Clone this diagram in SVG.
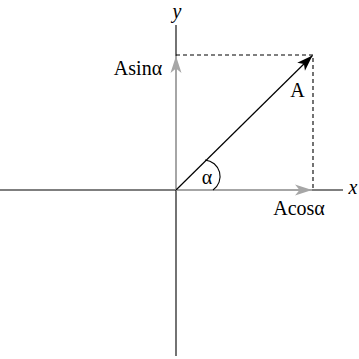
<svg xmlns="http://www.w3.org/2000/svg" width="359" height="359" viewBox="0 0 359 359">
<defs>
<style>
.axis{stroke:#000;stroke-width:1.1;fill:none}
.comp{stroke:#a6a6a6;stroke-width:2;fill:none}
.vec{stroke:#000;stroke-width:1.2;fill:none}
.dash{stroke:#000;stroke-width:1.1;stroke-dasharray:4,3;fill:none}
.lbl{font-family:"Liberation Serif","DejaVu Serif",serif;font-size:20px;fill:#000}
.it{font-style:italic}
</style>
<marker id="ah-gray" viewBox="-18 -7 20 14" refX="0" refY="0" markerWidth="20" markerHeight="14" markerUnits="userSpaceOnUse" orient="auto">
<path d="M0,0 L-17,-5.5 L-12.5,0 L-17,5.5 Z" fill="#a6a6a6"/>
</marker>
<marker id="ah-black" viewBox="-18 -7 20 14" refX="0" refY="0" markerWidth="20" markerHeight="14" markerUnits="userSpaceOnUse" orient="auto">
<path d="M0,0 L-16,-5.5 L-12,0 L-16,5.5 Z" fill="#000"/>
</marker>
</defs>
<g id="axes">
<line class="axis" x1="0" y1="190" x2="343" y2="190"/>
<line class="axis" x1="176" y1="25" x2="176" y2="356"/>
</g>
<g id="connectors">
<polyline class="dash" points="176,55 313,55 313,190"/>
<line class="comp" x1="176" y1="190" x2="312" y2="190" marker-end="url(#ah-gray)"/>
<line class="comp" x1="176" y1="190" x2="176" y2="56" marker-end="url(#ah-gray)"/>
<line class="vec" x1="176" y1="190" x2="312.5" y2="55.5" marker-end="url(#ah-black)"/>
<path class="axis" d="M205,160 A16.5,16.5 0 0 1 213,190"/>
</g>
<g id="labels">
<text class="lbl it" x="177" y="18" text-anchor="middle">y</text>
<text class="lbl it" x="353" y="194" text-anchor="middle">x</text>
<text class="lbl" x="138" y="75" text-anchor="middle">Asinα</text>
<text class="lbl" x="297.5" y="97" text-anchor="middle">A</text>
<text class="lbl" x="207" y="184" text-anchor="middle">α</text>
<text class="lbl" x="299" y="215" text-anchor="middle">Acosα</text>
</g>
</svg>
